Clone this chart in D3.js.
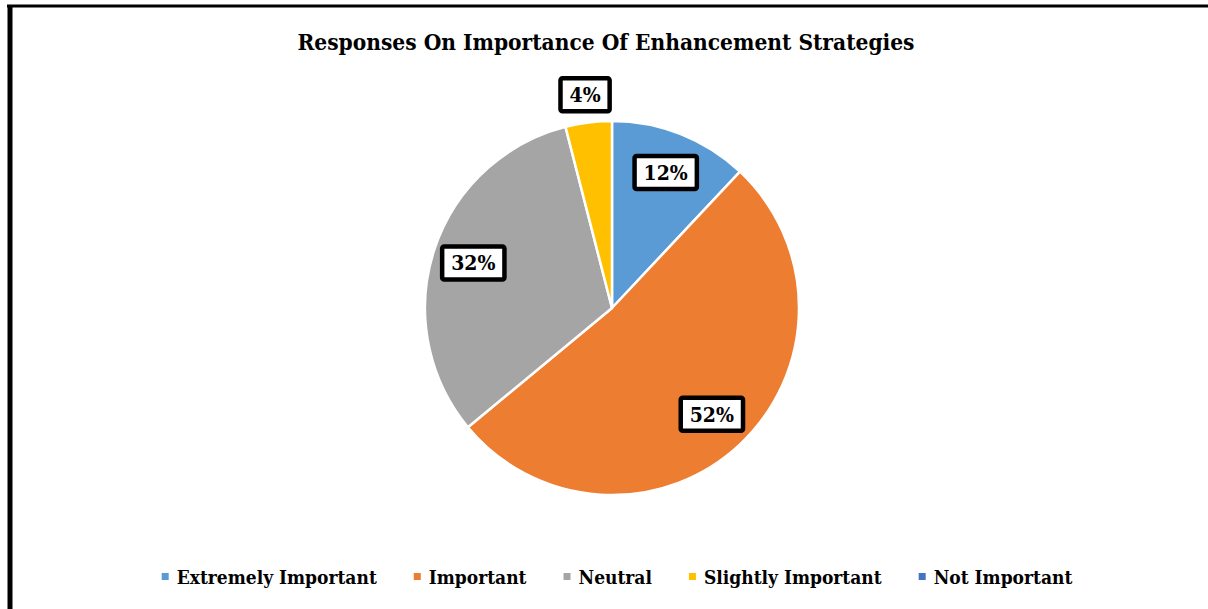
<!DOCTYPE html>
<html>
<head>
<meta charset="utf-8">
<script src="https://cdn.jsdelivr.net/npm/d3@7"></script>
<style>
  html, body { margin: 0; padding: 0; background: #fff; }
  svg { display: block; }
  text { font-family: "DejaVu Serif Condensed", "DejaVu Serif", serif; font-stretch: condensed; font-weight: bold; fill: #000; }
</style>
</head>
<body>
<svg id="chart" width="1208" height="609"></svg>
<script>
// Survey responses (percent of respondents)
const categories = ["Extremely Important", "Important", "Neutral", "Slightly Important", "Not Important"];
const values = [12, 52, 32, 4, 0];
const colors = ["#5B9BD5", "#ED7D31", "#A5A5A5", "#FFC000", "#4472C4"];
const title = "Responses On Importance Of Enhancement Strategies";

const W = 1208, H = 609;
const svg = d3.select("#chart");

// frame lines along the top and left edges
svg.append("line").attr("x1", 7).attr("x2", W).attr("y1", 6).attr("y2", 6)
  .attr("stroke", "#000").attr("stroke-width", 3);
svg.append("line").attr("x1", 10).attr("x2", 10).attr("y1", 5).attr("y2", H)
  .attr("stroke", "#000").attr("stroke-width", 5);

// title
svg.append("text")
  .attr("x", 606).attr("y", 50)
  .attr("text-anchor", "middle")
  .style("font-size", "22.5px")
  .text(title);

// pie
const cx = 612, cy = 308, R = 187;
const data = categories.map((c, i) => ({ name: c, value: values[i], color: colors[i] }));
const pie = d3.pie().value(d => d.value).sort(null);
const arcs = pie(data);
const arc = d3.arc().innerRadius(0).outerRadius(R);

const g = svg.append("g").attr("transform", `translate(${cx},${cy})`);
g.selectAll("path.slice")
  .data(arcs.filter(a => a.data.value > 0))
  .join("path")
  .attr("class", "slice")
  .attr("d", arc)
  .attr("fill", d => d.data.color)
  .attr("stroke", "#fff")
  .attr("stroke-width", 2.5)
  .attr("stroke-linejoin", "round");

// data labels: inside for larger slices, just outside for thin ones
const total = d3.sum(values);
const labelArcIn = d3.arc().innerRadius(R * 0.78).outerRadius(R * 0.78);
const labelArcOut = d3.arc().innerRadius(R * 1.15).outerRadius(R * 1.15);
const fmt = v => Math.round(v / total * 100) + "%";

const labels = g.selectAll("g.lbl")
  .data(arcs.filter(a => a.data.value > 0))
  .join("g")
  .attr("class", "lbl")
  .attr("transform", d => {
    const small = (d.endAngle - d.startAngle) < 0.4;
    const p = (small ? labelArcOut : labelArcIn).centroid(d);
    return `translate(${p[0]},${p[1]})`;
  });

labels.each(function(d) {
  const sel = d3.select(this);
  const t = sel.append("text")
    .attr("text-anchor", "middle")
    .attr("dy", "0.36em")
    .style("font-size", "21px")
    .text(fmt(d.data.value));
  const bb = t.node().getBBox();
  const padX = 9;
  sel.insert("rect", "text")
    .attr("x", bb.x - padX).attr("y", -16.5)
    .attr("width", bb.width + padX * 2).attr("height", 33)
    .attr("rx", 2)
    .attr("fill", "#fff")
    .attr("stroke", "#000")
    .attr("stroke-width", 4.5);
});

// legend
const legend = svg.append("g").attr("class", "legend");
const legendY = 577;
let x = 0;
const items = legend.selectAll("g.item").data(data).join("g").attr("class", "item");
items.each(function(d) {
  const it = d3.select(this);
  it.append("rect").attr("x", 0).attr("y", -4).attr("width", 7).attr("height", 7).attr("fill", d.color);
  const t = it.append("text").attr("x", 15).attr("dy", "0.35em").style("font-size", "19px").text(d.name);
  const w = t.node().getComputedTextLength();
  it.attr("transform", `translate(${x},${legendY})`);
  x += 15 + w + 37;
});
const legendW = x - 37;
legend.attr("transform", `translate(${617 - legendW / 2},0)`);
</script>
</body>
</html>
